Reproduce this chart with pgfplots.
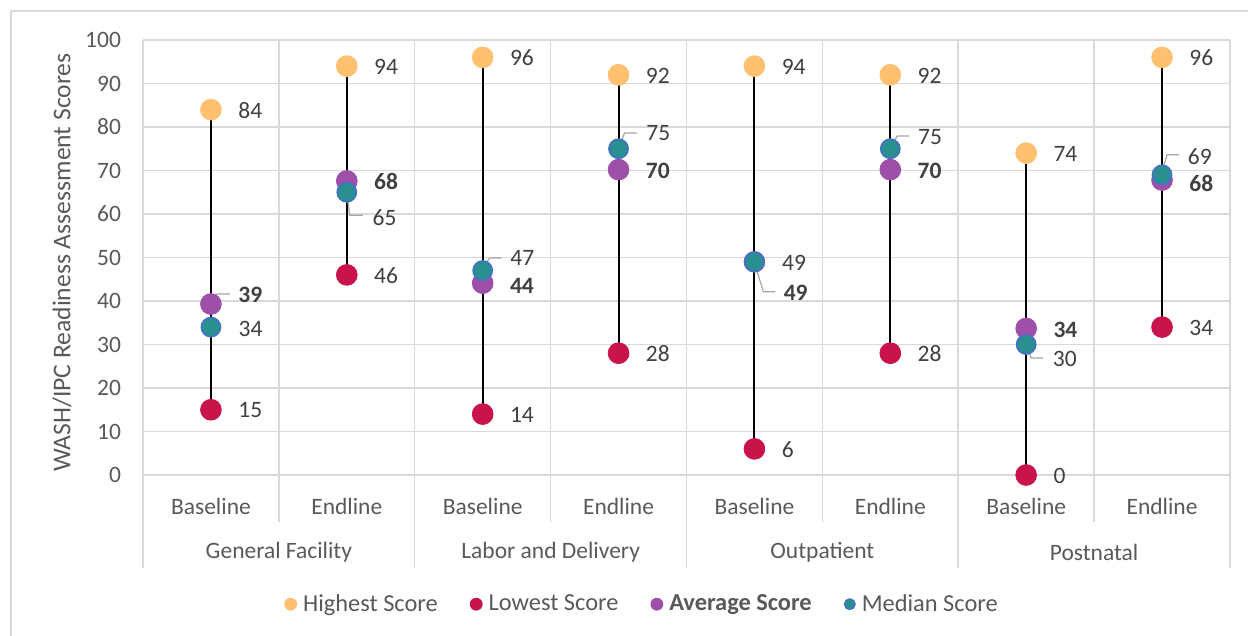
\documentclass[border=0pt]{standalone}
\usepackage{fontspec}
\setmainfont{Carlito}
\usepackage{pgfplots}
\usepackage{pgfplotstable}
\pgfplotsset{compat=1.18}
\definecolor{hiC}{HTML}{FFC06F}
\definecolor{loC}{HTML}{C8134B}
\definecolor{avC}{HTML}{9E50A8}
\definecolor{mdC}{HTML}{2A8F91}
\definecolor{mdB}{HTML}{4472C4}
\definecolor{gridC}{HTML}{D9D9D9}
\definecolor{tickC}{HTML}{595959}
\definecolor{labC}{HTML}{404040}
\definecolor{leadC}{HTML}{A6A6A6}
\newcommand{\chartfont}{\fontsize{11.75}{14}\selectfont}
\newcommand{\legfont}{\fontsize{12.2}{14.5}\selectfont}

% x  y  dx  dy  lab
\pgfplotstableread{
x y dx dy lab
0 84 13.5 -0.3 84
1 94 13.5 -0.3 94
2 96 13.5 -0.3 96
3 92 13.5 -0.3 92
4 94 13.5 -0.3 94
5 92 13.5 -0.3 92
6 74 13.5 -0.3 74
7 96 13.5 -0.3 96
}\hiTab
\pgfplotstableread{
x y dx dy lab
0 15 13.5 -0.3 15
1 46 13.5 -0.3 46
2 14 13.5 -0.3 14
3 28 13.5 -0.3 28
4 6 13.5 -0.3 6
5 28 13.5 -0.3 28
6 0 13.5 -0.3 0
7 34 13.5 -0.3 34
}\loTab
\pgfplotstableread{
x y dx dy lab
0 39.3 13.5 4.5 39
1 67.6 13.5 -0.5 68
2 44.1 13.5 -1.5 44
3 70.2 13.5 -0.7 70
4 49.0 14.5 -15.5 49
5 70.2 13.5 -0.7 70
6 33.7 13.5 -0.8 34
7 67.8 13.5 -1.5 68
}\avTab
\pgfplotstableread{
x y dx dy lab
0 34 13.5 -1.0 34
1 65 12.5 -12.5 65
2 47 13.5 6.25 47
3 75 13.5 7.9 75
4 49 13.5 -0.5 49
5 75 13.5 5.9 75
6 30 13.0 -7.25 30
7 69 12.5 9.0 69
}\mdTab

\pgfplotsset{
  lab/.style={
    only marks, mark=*,
    nodes near coords,
    point meta=explicit symbolic,
    visualization depends on={\thisrow{dx}\as\dx},
    visualization depends on={\thisrow{dy}\as\dy},
    every node near coord/.append style={anchor=west, inner sep=0pt,
      xshift=\dx pt, yshift=\dy pt, text=labC, font=\chartfont},
  },
}

\begin{document}
\begin{tikzpicture}
\path[use as bounding box] (-71.5pt,-80.5pt) rectangle (552.5pt,237.5pt);
\draw[gridC, line width=0.75pt] (-66pt,-100pt) -- (-66pt,232pt) -- (570pt,232pt);
\begin{axis}[
  at={(0pt,0pt)}, anchor=south west,
  scale only axis, width=543.5pt, height=217.5pt,
  xmin=-0.5, xmax=7.5, ymin=0, ymax=100,
  clip=false,
  cycle list={{black}},
  axis line style={draw=none},
  major tick length=0pt,
  font=\chartfont,
  ytick={0,10,...,100},
  ymajorgrids,
  grid style={gridC, line width=0.75pt},
  yticklabel style={text=tickC, xshift=-7.5pt, /pgf/number format/assume math mode=true},
  xtick={0,...,7},
  xticklabels={Baseline,Endline,Baseline,Endline,Baseline,Endline,Baseline,Endline},
  xticklabel style={anchor=center, yshift=-15.5pt, text=tickC},
  extra x ticks={-0.5,0.5,1.5,2.5,3.5,4.5,5.5,6.5,7.5},
  extra x tick labels={},
  extra x tick style={grid=major, major tick length=0pt},
  ylabel={WASH/IPC Readiness Assessment Scores},
  every axis y label/.style={at={(axis description cs:-0.0745,0.488)}, rotate=90, anchor=center, text=tickC, font=\fontsize{12.8}{15}\selectfont},
  legend columns=4,
  legend style={at={(axis description cs:0.4600,-0.297)}, anchor=center, draw=none, fill=none,
    font=\legfont, text=tickC,
    /tikz/every even column/.append style={column sep=14pt},
    /tikz/every odd column/.append style={column sep=1pt}},
]
% vertical range lines
\addplot[black, line width=1pt, forget plot] coordinates {(0,15) (0,84)};
\addplot[black, line width=1pt, forget plot] coordinates {(1,46) (1,94)};
\addplot[black, line width=1pt, forget plot] coordinates {(2,14) (2,96)};
\addplot[black, line width=1pt, forget plot] coordinates {(3,28) (3,92)};
\addplot[black, line width=1pt, forget plot] coordinates {(4,6) (4,94)};
\addplot[black, line width=1pt, forget plot] coordinates {(5,28) (5,92)};
\addplot[black, line width=1pt, forget plot] coordinates {(6,0) (6,74)};
\addplot[black, line width=1pt, forget plot] coordinates {(7,34) (7,96)};

\addplot[lab, color=hiC, mark size=5.2pt, mark options={draw=none, fill=hiC},
  legend image code/.code={\fill[hiC] (3pt,0pt) circle (3pt);}]
  table[x=x, y=y, meta=lab] {\hiTab};
\addlegendentry{Highest Score}
\addplot[lab, color=loC, mark size=5.2pt, mark options={draw=none, fill=loC},
  legend image code/.code={\fill[loC] (3pt,0pt) circle (3pt);}]
  table[x=x, y=y, meta=lab] {\loTab};
\addlegendentry{Lowest Score}
\addplot[lab, color=avC, mark size=5.2pt, mark options={draw=none, fill=avC},
  every node near coord/.append style={font=\chartfont\bfseries},
  legend image code/.code={\fill[avC] (3pt,0pt) circle (3pt);}]
  table[x=x, y=y, meta=lab] {\avTab};
\addlegendentry{\textbf{Average Score}}
\addplot[lab, color=mdC, mark size=4.8pt, mark options={draw=mdB, line width=0.8pt, fill=mdC},
  legend image code/.code={\filldraw[fill=mdC, draw=mdB, line width=0.6pt] (3pt,0pt) circle (2.7pt);}]
  table[x=x, y=y, meta=lab] {\mdTab};
\addlegendentry{Median Score}

% leader lines
\draw[leadC, line width=0.6pt] (axis cs:0,39.3) ++(0pt,0.5pt) -- ++(3pt,4.5pt) -- ++(6.5pt,0pt);
\draw[leadC, line width=0.6pt] (axis cs:1,65) ++(0pt,-0.5pt) -- ++(1.5pt,-11pt) -- ++(6.5pt,0pt);
\draw[leadC, line width=0.6pt] (axis cs:2,47) ++(0pt,1.25pt) -- ++(3.5pt,5pt) -- ++(6pt,0pt);
\draw[leadC, line width=0.6pt] (axis cs:3,75) ++(0pt,0.4pt) -- ++(3pt,7.5pt) -- ++(6pt,0pt);
\draw[leadC, line width=0.6pt] (axis cs:4,49) ++(0pt,-0.5pt) -- ++(4.5pt,-14.5pt) -- ++(6pt,0pt);
\draw[leadC, line width=0.6pt] (axis cs:5,75) ++(0pt,0.4pt) -- ++(3.5pt,6pt) -- ++(6pt,0pt);
\draw[leadC, line width=0.6pt] (axis cs:6,30) ++(0pt,0pt) -- ++(2.5pt,-6.75pt) -- ++(6pt,0pt);
\draw[leadC, line width=0.6pt] (axis cs:7,69) ++(0pt,1.5pt) -- ++(2.5pt,8.5pt) -- ++(6pt,0pt);

% separators below axis
\pgfplotsinvokeforeach{0.5,2.5,4.5,6.5}{
  \draw[gridC, line width=0.75pt] (axis cs:#1,0) -- ++(0pt,-23.5pt);
}
\pgfplotsinvokeforeach{-0.5,1.5,3.5,5.5,7.5}{
  \draw[gridC, line width=0.75pt] (axis cs:#1,0) -- ++(0pt,-46.5pt);
}

% group labels
\node[text=tickC, anchor=center, yshift=-38.5pt] at (axis cs:0.5,0) {General Facility};
\node[text=tickC, anchor=center, yshift=-38.5pt] at (axis cs:2.5,0) {Labor and Delivery};
\node[text=tickC, anchor=center, yshift=-38.5pt] at (axis cs:4.5,0) {Outpatient};
\node[text=tickC, anchor=center, yshift=-38.5pt] at (axis cs:6.5,0) {Postnatal};
\end{axis}
\end{tikzpicture}
\end{document}
